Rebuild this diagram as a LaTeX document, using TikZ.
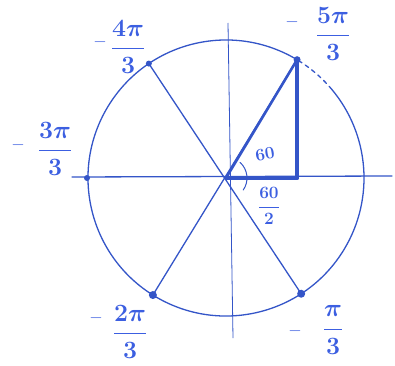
\documentclass[tikz,border=0pt]{standalone}
\usepackage{amsmath}
\usetikzlibrary{calc}
\begin{document}
\begin{tikzpicture}[x=1pt,y=1pt,
  pen/.style={draw=penblue,line width=1.3pt,line cap=round},
  thickpen/.style={draw=penblue,line width=3.2pt,line cap=round},
  dotmark/.style={circle,fill=penblue,inner sep=0pt,minimum size=7pt},
  lab/.style={text=labblue,inner sep=0pt,font=\fontsize{24}{28}\selectfont\boldmath},
  minuslab/.style={text=labblue,inner sep=0pt,font=\fontsize{16}{18}\selectfont},
  smalllab/.style={text=labblue,inner sep=0pt,font=\fontsize{17}{19}\selectfont\boldmath}]
\definecolor{penblue}{RGB}{52,85,200}
\definecolor{labblue}{RGB}{60,95,225}
\useasboundingbox (0,0) rectangle (395,365);
\fill[white] (0,0) rectangle (395,365);
% centre and axes
\coordinate (C) at (226,187);
\coordinate (xl) at (72,188);
\coordinate (xr) at (392,189);
\coordinate (yt) at (228,342);
\coordinate (yb) at (233,27);
\draw[draw=penblue,line width=0.8pt] (yt) -- (yb);
\draw[pen] (xl) -- (xr);
% circle with a dashed piece
\draw[pen] ([shift={(59:138)}]C) arc[start angle=59,end angle=400,radius=138];
\draw[pen,dashed,dash pattern=on 4pt off 4pt] ([shift={(40:138)}]C) arc[start angle=40,end angle=59,radius=138];
% points on the circle
\coordinate (P5) at ($(C)+(59:138)$);
\coordinate (P4) at ($(C)+(124:138)$);
\coordinate (P3) at ($(C)+(180:139)$);
\coordinate (P2) at ($(C)+(238:138)$);
\coordinate (P1) at ($(C)+(303:138)$);
\coordinate (F) at (P5 |- C);
% diameters
\draw[pen] (P4) -- (P1);
\draw[pen] (P2) -- (P5);
% triangle
\draw[thickpen,line width=2.6pt] (C) -- (P5);
\draw[thickpen,line width=3.4pt] (P5) -- (F);
\draw[thickpen,line width=4pt] (C) -- (F);
% angle mark
\draw[pen,line width=1pt] ([shift={(48:21)}]C) arc[start angle=48,end angle=-35,radius=21];
% dots
\node[dotmark] (d5) at (P5) {};
\node[dotmark,minimum size=6pt] (d4) at (P4) {};
\node[dotmark,minimum size=6pt] (d3) at (P3) {};
\node[dotmark,minimum size=8pt] (d2) at (P2) {};
\node[dotmark,minimum size=8pt] (d1) at (P1) {};
% labels
\node[minuslab] (m4) at (100,323) {$-$};
\node[lab] (f4) at (128,318) {$\dfrac{4\pi}{3}$};
\node[minuslab] (m5) at (292,343) {$-$};
\node[lab] (f5) at (333,331) {$\dfrac{5\pi}{3}$};
\node[minuslab] (m3) at (18,220) {$-$};
\node[lab] (f3) at (55,216) {$\dfrac{3\pi}{3}$};
\node[minuslab] (m2) at (96,47) {$-$};
\node[lab] (f2) at (130,33) {$\dfrac{2\pi}{3}$};
\node[minuslab] (m1) at (295,34) {$-$};
\node[lab] (f1) at (333,35) {$\dfrac{\pi}{3}$};
\node[smalllab,rotate=10] (a60) at (265,211) {$60$};
\node[smalllab] (h60) at (269,159) {$\dfrac{60}{2}$};
\end{tikzpicture}
\end{document}
